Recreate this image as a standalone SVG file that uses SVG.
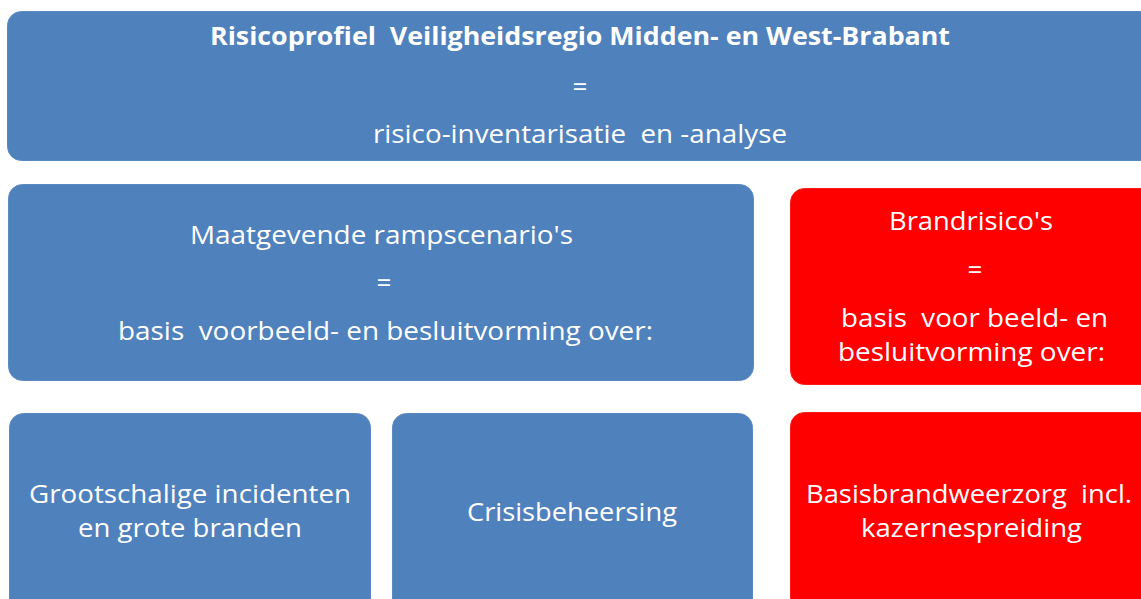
<svg xmlns="http://www.w3.org/2000/svg" width="1141" height="599" viewBox="0 0 1141 599">
<style>
.blue{fill:#4F81BD;stroke:#5B8AC2;stroke-width:1}
.red{fill:#FF0000;stroke:#FF1A1A;stroke-width:1}
text{font-family:"Open Sans","Liberation Sans",sans-serif;fill:#FFFFFF;text-anchor:middle;white-space:pre}
.t{font-size:26px}
.b{font-size:25px;font-weight:bold}
</style>
<rect width="1141" height="599" fill="#FFFFFF"/>
<g id="top">
<rect class="blue" x="7.5" y="11.5" width="1150" height="149" rx="14"/>
<text class="b" x="580" y="45" textLength="740" lengthAdjust="spacingAndGlyphs">Risicoprofiel  Veiligheidsregio Midden- en West-Brabant</text>
<text class="t" x="580" y="96">=</text>
<text class="t" x="580" y="143" textLength="414" lengthAdjust="spacingAndGlyphs">risico-inventarisatie  en -analyse</text>
</g>
<g id="scenarios">
<rect class="blue" x="8.5" y="184.5" width="745" height="196" rx="14"/>
<text class="t" x="381.5" y="244" textLength="383" lengthAdjust="spacingAndGlyphs">Maatgevende rampscenario's</text>
<text class="t" x="384" y="292">=</text>
<text class="t" x="385.5" y="340" textLength="535" lengthAdjust="spacingAndGlyphs">basis  voorbeeld- en besluitvorming over:</text>
</g>
<g id="brandrisico">
<rect class="red" x="790.5" y="188.5" width="370" height="196" rx="14"/>
<text class="t" x="971" y="230" textLength="164" lengthAdjust="spacingAndGlyphs">Brandrisico's</text>
<text class="t" x="975" y="279">=</text>
<text class="t" x="974.5" y="327" textLength="267" lengthAdjust="spacingAndGlyphs">basis  voor beeld- en</text>
<text class="t" x="971.5" y="361" textLength="267" lengthAdjust="spacingAndGlyphs">besluitvorming over:</text>
</g>
<g id="grootschalig">
<rect class="blue" x="9.5" y="413.5" width="361" height="200" rx="14"/>
<text class="t" x="190" y="503" textLength="322" lengthAdjust="spacingAndGlyphs">Grootschalige incidenten</text>
<text class="t" x="190" y="537" textLength="224" lengthAdjust="spacingAndGlyphs">en grote branden</text>
</g>
<g id="crisis">
<rect class="blue" x="392.5" y="413.5" width="360" height="200" rx="14"/>
<text class="t" x="572" y="521" textLength="210" lengthAdjust="spacingAndGlyphs">Crisisbeheersing</text>
</g>
<g id="basisbrandweerzorg">
<rect class="red" x="790.5" y="412.5" width="370" height="200" rx="14"/>
<text class="t" x="969" y="503" textLength="326" lengthAdjust="spacingAndGlyphs">Basisbrandweerzorg  incl.</text>
<text class="t" x="971.5" y="537" textLength="221" lengthAdjust="spacingAndGlyphs">kazernespreiding</text>
</g>
<g id="connectors"></g>
</svg>
